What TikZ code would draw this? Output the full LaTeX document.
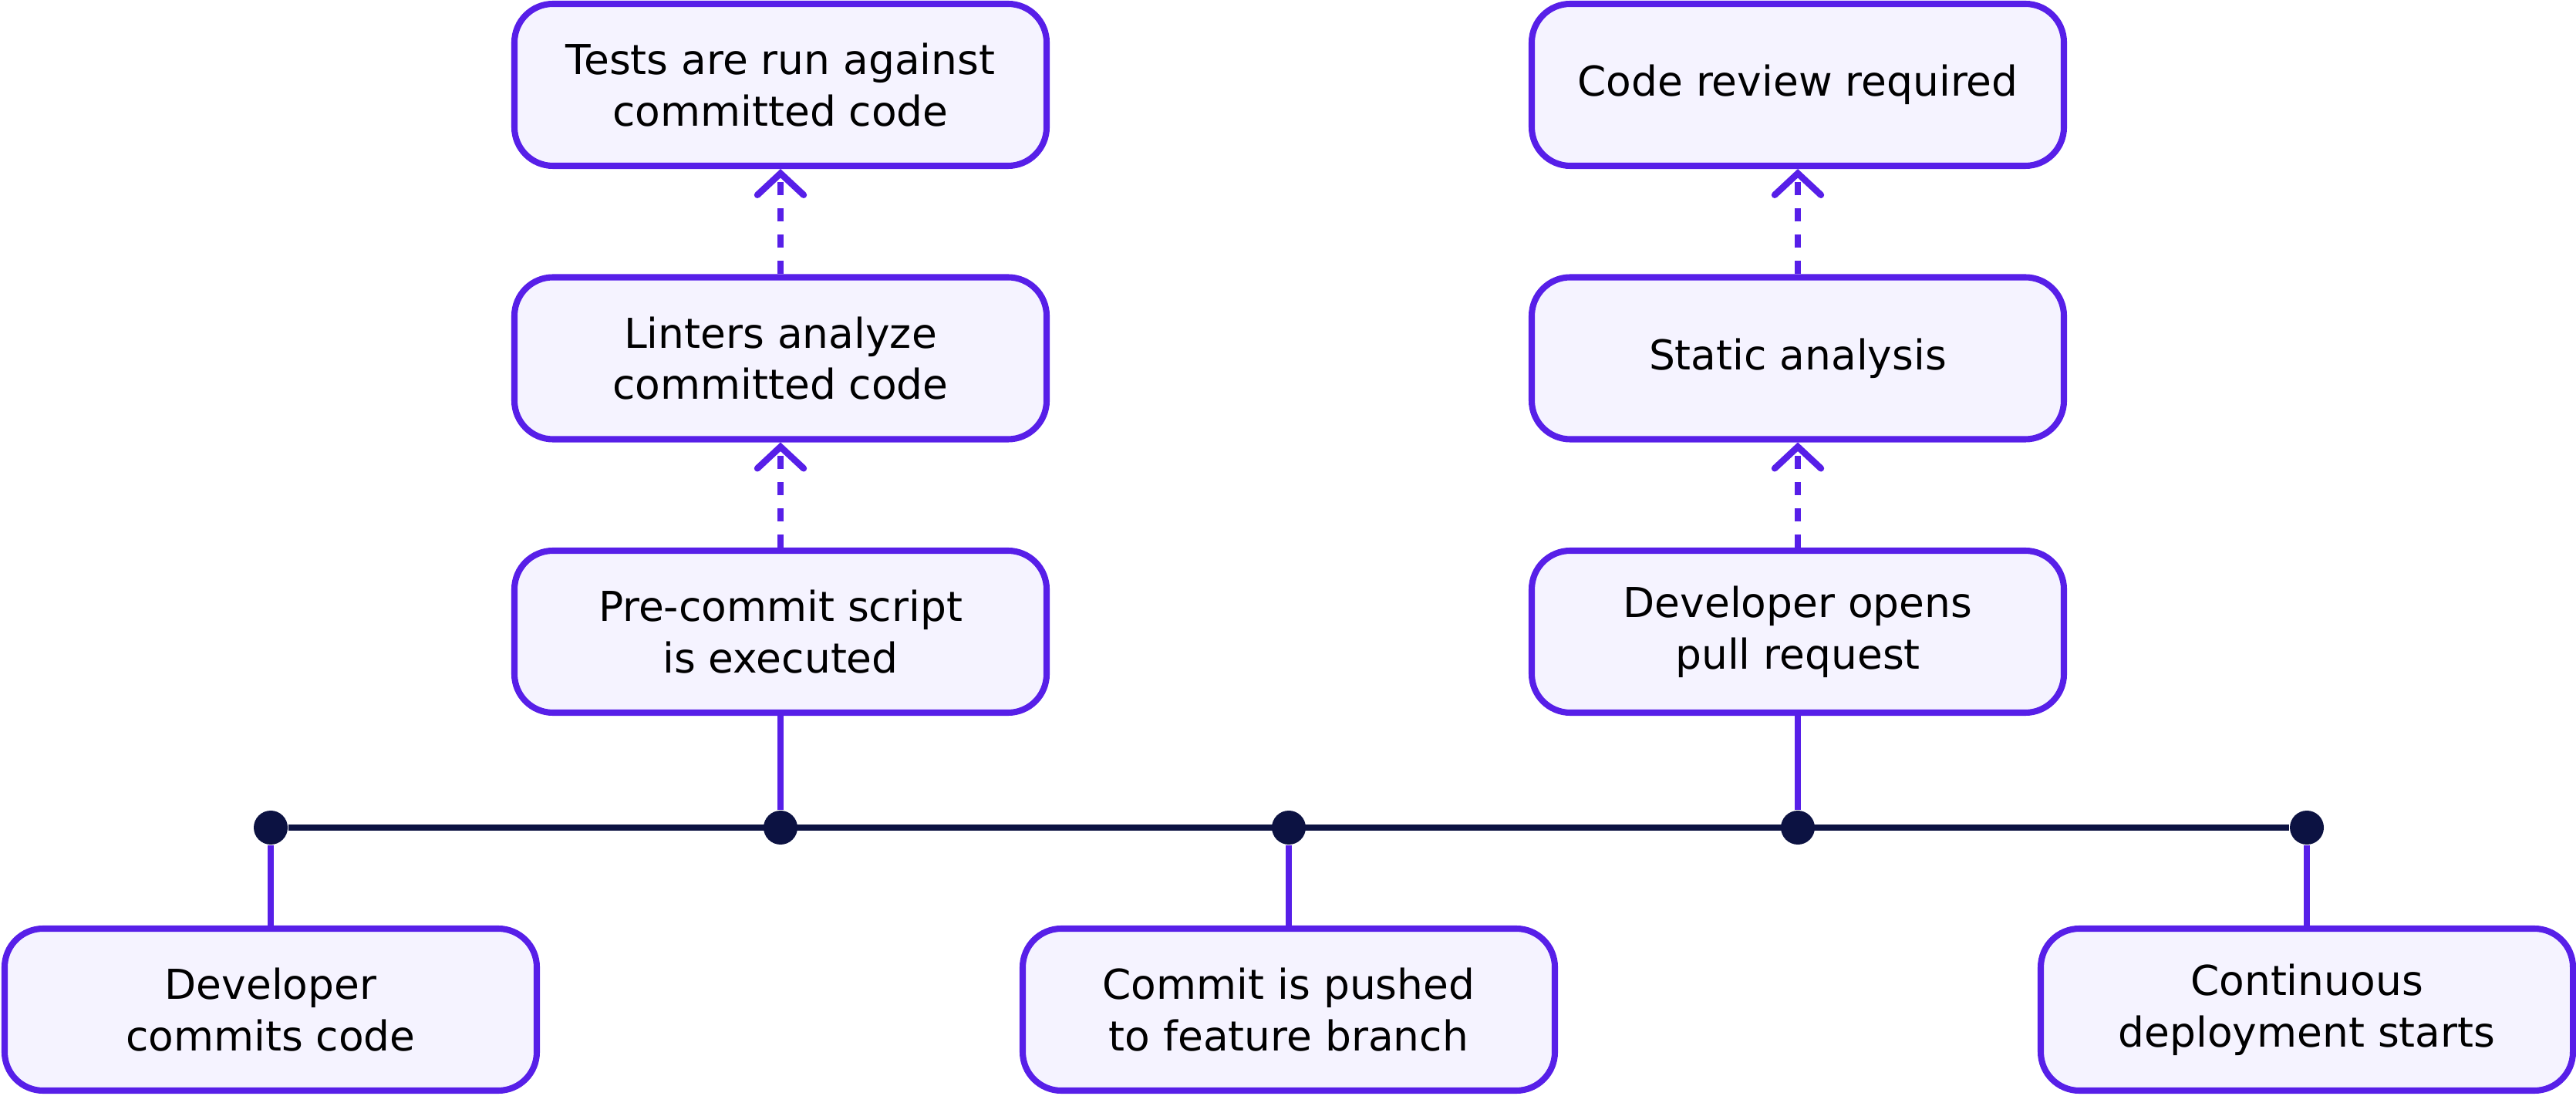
\documentclass[tikz,border=0pt]{standalone}
\usepackage{fontspec}
\setmainfont{DejaVu Sans}
\usetikzlibrary{arrows.meta, positioning}
\definecolor{stepviolet}{RGB}{87, 31, 232}
\definecolor{steplavender}{RGB}{245, 243, 255}
\definecolor{timelinenavy}{RGB}{12, 18, 66}
\tikzstyle{stage} = [rectangle, rounded corners=0.5cm, minimum width=6.9cm, minimum height=2.1cm, text centered, align=center, draw=stepviolet, line width=2.3pt, fill=steplavender, font=\fontsize{15.2}{19}\selectfont]
\tikzstyle{milestone} = [circle, fill=timelinenavy, inner sep=0pt, minimum size=0.44cm]
\tikzstyle{link} = [draw=stepviolet, line width=2.4pt]
\tikzstyle{check} = [draw=stepviolet, line width=2.4pt, dash pattern=on 0.17cm off 0.17cm, -{Straight Barb[length=0.28cm, width=0.6cm, line cap=round]}]
\tikzstyle{timeline} = [draw=timelinenavy, line width=2.5pt]

\begin{document}
\begin{tikzpicture}[node distance=3.545cm]
\useasboundingbox (0,0) rectangle (33.4,14.2);

% timeline
\node (m1) [milestone] at (3.51,3.47) {};
\node (m2) [milestone] at (10.12,3.47) {};
\node (m3) [milestone] at (16.71,3.47) {};
\node (m4) [milestone] at (23.31,3.47) {};
\node (m5) [milestone] at (29.91,3.47) {};
\draw [timeline] (m1) -- (m5);

% checks at commit time
\node (precommit) [stage] at (10.12,6.01) {Pre-commit script\\is executed};
\node (linters) [stage, above of=precommit] {Linters analyze\\committed code};
\node (tests) [stage, above of=linters] {Tests are run against\\committed code};

% checks at pull request time
\node (pullreq) [stage] at (23.31,6.01) {Developer opens\\pull request};
\node (static) [stage, above of=pullreq] {Static analysis};
\node (review) [stage, above of=static] {Code review required};

% events below the line
\node (devcommit) [stage] at (3.51,1.11) {Developer\\commits code};
\node (pushed) [stage] at (16.71,1.11) {Commit is pushed\\to feature branch};
\node (deploy) [stage] at (29.91,1.11) {Continuous\\deployment starts};

% Arrows
\draw [link] (precommit) -- (m2);
\draw [link] (pullreq) -- (m4);
\draw [link] (m1) -- (devcommit);
\draw [link] (m3) -- (pushed);
\draw [link] (m5) -- (deploy);
\draw [check] (precommit) -- (linters);
\draw [check] (linters) -- (tests);
\draw [check] (pullreq) -- (static);
\draw [check] (static) -- (review);

\end{tikzpicture}
\end{document}
